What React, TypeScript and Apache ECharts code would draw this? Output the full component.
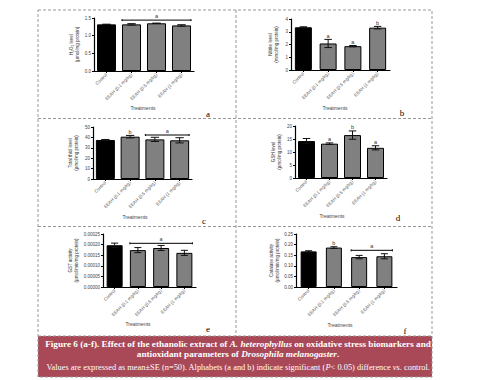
import React, { useEffect, useRef } from "react";
import * as echarts from "echarts";

const categories = ["Control", "EEAH (0.1 mg/kg)", "EEAH (0.5 mg/kg)", "EEAH (1 mg/kg)"];

const h2o2Mean = [1.32, 1.32, 1.35, 1.29];
const h2o2Err = [0.005, 0.02, 0.005, 0.02];
const nitriteMean = [3.35, 2.08, 1.87, 3.32];
const nitriteErr = [0.04, 0.32, 0.05, 0.1];
const thiolMean = [37.5, 40.7, 38.1, 37.2];
const thiolErr = [0.5, 1.2, 2, 2.5];
const gshMean = [14.2, 13.2, 16.5, 11.6];
const gshErr = [1, 0.3, 1.6, 0.8];
const gstMean = [0.000197, 0.000174, 0.000184, 0.000161];
const gstErr = [0.00001, 0.000012, 0.000012, 0.000012];
const catMean = [0.168, 0.186, 0.141, 0.145];
const catErr = [0.003, 0.004, 0.008, 0.012];

const panels = [
  { key: "a", mean: h2o2Mean, err: h2o2Err, letters: ["", "", "", ""], bracket: [1, 3, 1.44, "a"], max: 1.5, interval: 0.5, dec: 1, yName: "H\u2082O\u2082 level\n(\u00b5mol/mg protein)" },
  { key: "b", mean: nitriteMean, err: nitriteErr, letters: ["", "a", "a", "b"], bracket: null, max: 4, interval: 1, dec: 0, yName: "Nitrite level\n(mmol/mg protein)" },
  { key: "c", mean: thiolMean, err: thiolErr, letters: ["", "b", "", ""], bracket: [2, 3, 42.3, "a"], max: 50, interval: 10, dec: 0, yName: "Total thiol level\n(\u00b5mol/mg protein)" },
  { key: "d", mean: gshMean, err: gshErr, letters: ["", "a", "b", "a"], bracket: null, max: 20, interval: 5, dec: 0, yName: "GSH level\n(\u00b5mol/mg protein)" },
  { key: "e", mean: gstMean, err: gstErr, letters: ["", "", "", ""], bracket: [1, 3, 0.000206, "a"], max: 0.00025, interval: 0.00005, dec: 5, yName: "GST activity\n(\u00b5mol/min/mg protein)" },
  { key: "f", mean: catMean, err: catErr, letters: ["", "b", "", ""], bracket: [2, 3, 0.173, "a"], max: 0.25, interval: 0.05, dec: 2, yName: "Catalase activity\n(\u00b5mol/min/mg protein)" },
];

// layout (style only)
const layout = [
  { left: 94, top: 18, width: 100, height: 53, bw: 19, nameGap: 14, letterX: 208, letterY: 114, trX: 143, trY: 108 },
  { left: 291, top: 19, width: 99, height: 51, bw: 17, nameGap: 12, letterX: 402, letterY: 113, trX: 335, trY: 108 },
  { left: 93, top: 127, width: 99, height: 52, bw: 19, nameGap: 14, letterX: 204, letterY: 221, trX: 135, trY: 217 },
  { left: 295, top: 126, width: 92, height: 52, bw: 17, nameGap: 13, letterX: 398, letterY: 218, trX: 332, trY: 216 },
  { left: 103, top: 234, width: 93, height: 53, bw: 16, nameGap: 21, letterX: 208, letterY: 329, trX: 138, trY: 324 },
  { left: 296, top: 234, width: 101, height: 53, bw: 16, nameGap: 16, letterX: 405, letterY: 331, trX: 340, trY: 325 },
];

const SANS = "Liberation Sans, Arial, sans-serif";
const SERIF = "Liberation Serif, Times New Roman, serif";

export default function App() {
  const ref = useRef<HTMLDivElement>(null);
  useEffect(() => {
    if (!ref.current) return;
    const chart = echarts.init(ref.current, undefined, { renderer: "svg" });
    const grid: any[] = [];
    const xAxis: any[] = [];
    const yAxis: any[] = [];
    const series: any[] = [];
    const graphic: any[] = [];

    panels.forEach((p, i) => {
      const L = layout[i];
      grid.push({ left: L.left, top: L.top, width: L.width, height: L.height, containLabel: false });
      xAxis.push({
        type: "category",
        gridIndex: i,
        data: categories,
        axisLine: { lineStyle: { color: "#000", width: 1.2 } },
        axisTick: { show: true, alignWithLabel: true, length: 2, lineStyle: { color: "#000" } },
        axisLabel: { rotate: 45, fontSize: 4.5, color: "#555", margin: 3, fontFamily: SANS, interval: 0 },
      });
      yAxis.push({
        type: "value",
        gridIndex: i,
        min: 0,
        max: p.max,
        interval: p.interval,
        name: p.yName,
        nameLocation: "middle",
        nameRotate: 90,
        nameGap: L.nameGap,
        nameTextStyle: { fontSize: 4.5, color: "#333", fontFamily: SANS, lineHeight: 6 },
        axisLine: { show: true, lineStyle: { color: "#000", width: 1.2 } },
        axisTick: { show: true, length: 2, lineStyle: { color: "#000" } },
        splitLine: { show: false },
        axisLabel: {
          fontSize: 4.5,
          color: "#444",
          margin: 3,
          fontFamily: SANS,
          formatter: (v: number) => v.toFixed(p.dec),
        },
      });
      series.push({
        type: "bar",
        xAxisIndex: i,
        yAxisIndex: i,
        barWidth: L.bw,
        data: p.mean.map((v, j) => ({
          value: v,
          itemStyle: { color: j === 0 ? "#000" : "#808080", borderColor: "#000", borderWidth: 1 },
        })),
      });
      const letters = p.letters;
      series.push({
        type: "custom",
        xAxisIndex: i,
        yAxisIndex: i,
        z: 5,
        clip: false,
        itemStyle: { color: "#333" },
        data: p.mean.map((v, j) => [j, v, p.err[j]]),
        renderItem: (params: any, api: any) => {
          const x = api.value(0);
          const m = api.value(1);
          const e = api.value(2);
          const t = api.coord([x, m + e]);
          const b = api.coord([x, m - e]);
          const hw = L.bw * 0.22;
          const st = { stroke: "#111", lineWidth: 1 };
          const children: any[] = [
            { type: "line", shape: { x1: t[0], y1: t[1], x2: b[0], y2: b[1] }, style: st },
            { type: "line", shape: { x1: t[0] - hw, y1: t[1], x2: t[0] + hw, y2: t[1] }, style: st },
            { type: "line", shape: { x1: b[0] - hw, y1: b[1], x2: b[0] + hw, y2: b[1] }, style: st },
          ];
          const lt = letters[params.dataIndex];
          if (lt) {
            children.push({
              type: "text",
              x: t[0],
              y: t[1] - 0.5,
              style: { text: lt, fontSize: 5.5, fill: "#333", align: "center", verticalAlign: "bottom", fontFamily: SANS },
            });
          }
          return { type: "group", children };
        },
      });
      if (p.bracket) {
        const br = p.bracket as any[];
        series.push({
          type: "custom",
          xAxisIndex: i,
          yAxisIndex: i,
          z: 6,
          clip: false,
          itemStyle: { color: "#333" },
          data: [[br[0], br[2], br[1]]],
          renderItem: (params: any, api: any) => {
            const p1 = api.coord([api.value(0), api.value(1)]);
            const p2 = api.coord([api.value(2), api.value(1)]);
            const hw = L.bw / 2;
            const st = { stroke: "#000", lineWidth: 1 };
            return {
              type: "group",
              children: [
                { type: "line", shape: { x1: p1[0] - hw, y1: p1[1], x2: p2[0] + hw, y2: p1[1] }, style: st },
                { type: "line", shape: { x1: p1[0] - hw, y1: p1[1] - 1, x2: p1[0] - hw, y2: p1[1] + 1 }, style: st },
                { type: "line", shape: { x1: p2[0] + hw, y1: p1[1] - 1, x2: p2[0] + hw, y2: p1[1] + 1 }, style: st },
                {
                  type: "text",
                  x: (p1[0] + p2[0]) / 2,
                  y: p1[1] - 1,
                  style: { text: br[3], fontSize: 5.5, fill: "#333", align: "center", verticalAlign: "bottom", fontFamily: SANS },
                },
              ],
            };
          },
        });
      }
      graphic.push({
        type: "text",
        x: L.trX,
        y: L.trY,
        style: { text: "Treatments", fontSize: 5, fill: "#444", align: "center", verticalAlign: "middle", fontFamily: SANS },
      });
      graphic.push({
        type: "text",
        x: L.letterX,
        y: L.letterY,
        style: { text: p.key, fontSize: 9, fill: "#000", align: "center", verticalAlign: "middle", fontFamily: SERIF },
      });
    });

    const dash = { stroke: "#999", lineWidth: 1, lineDash: [3, 2] };
    const bold = { fontSize: 9.2, fontWeight: "bold", fill: "#fff", fontFamily: SERIF };
    const boldIt = { ...bold, fontStyle: "italic" };
    const norm = { fontSize: 8.4, fill: "#fff", fontFamily: SERIF };
    const normIt = { ...norm, fontStyle: "italic" };
    graphic.push(
      { type: "rect", z: -10, shape: { x: 38, y: 336, width: 394, height: 41 }, style: { fill: "#a94857" } },
      { type: "rect", shape: { x: 38, y: 10, width: 394, height: 367 }, style: { fill: "none", ...dash } },
      { type: "line", shape: { x1: 236, y1: 10, x2: 236, y2: 336 }, style: dash },
      { type: "line", shape: { x1: 38, y1: 118.5, x2: 432, y2: 118.5 }, style: dash },
      { type: "line", shape: { x1: 38, y1: 226.5, x2: 432, y2: 226.5 }, style: dash },
      { type: "line", shape: { x1: 38, y1: 336, x2: 432, y2: 336 }, style: dash },
      {
        type: "text",
        x: 238,
        y: 343.5,
        style: {
          text: "{b|Figure 6 (a-f). Effect of the ethanolic extract of }{bi|A. heterophyllus}{b| on oxidative stress biomarkers and}",
          align: "center",
          verticalAlign: "middle",
          rich: { b: bold, bi: boldIt },
        },
      },
      {
        type: "text",
        x: 238,
        y: 354,
        style: {
          text: "{b|antioxidant parameters of }{bi|Drosophila melanogaster}{b|.}",
          align: "center",
          verticalAlign: "middle",
          rich: { b: bold, bi: boldIt },
        },
      },
      {
        type: "text",
        x: 238,
        y: 367.5,
        style: {
          text: "{n|Values are expressed as mean\u00b1SE (n=50). Alphabets (a and b) indicate significant (}{i|P}{n|< 0.05) difference }{i|vs.}{n| control.}",
          align: "center",
          verticalAlign: "middle",
          rich: { n: norm, i: normIt },
        },
      }
    );

    chart.setOption({ animation: false, grid, xAxis, yAxis, series, graphic });
    return () => chart.dispose();
  }, []);
  return <div ref={ref} style={{ position: "absolute", left: 0, top: 0, width: 481, height: 380, background: "#fff" }} />;
}
